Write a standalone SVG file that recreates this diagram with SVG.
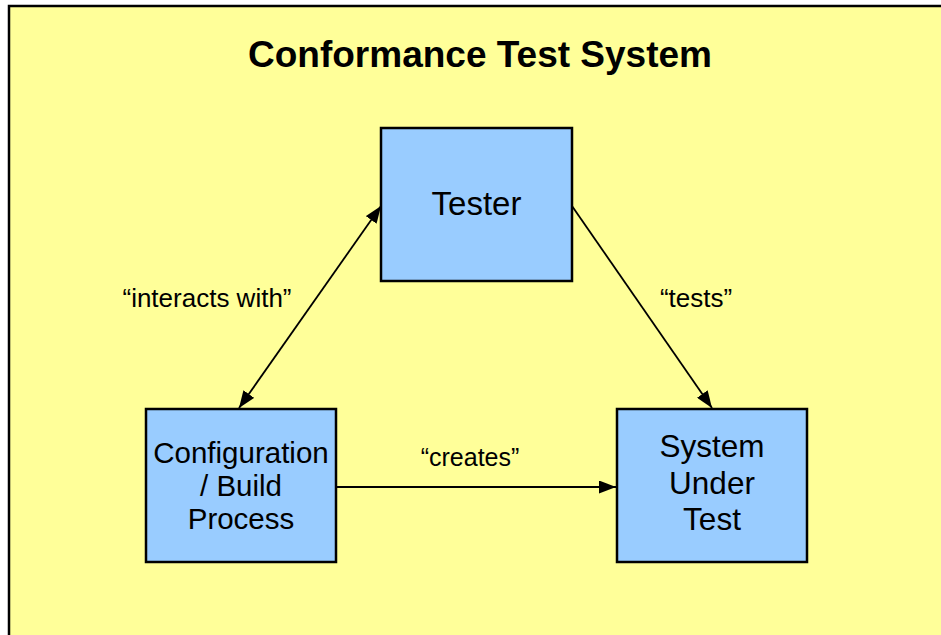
<svg xmlns="http://www.w3.org/2000/svg" width="941" height="635" viewBox="0 0 941 635">
<style>
.box{fill:#99CCFF;stroke:#000;stroke-width:2.5}
.nt{font-family:"Liberation Sans",Arial,sans-serif;font-size:30px;fill:#000;text-anchor:middle}
.lbl{font-family:"Liberation Sans",Arial,sans-serif;font-size:26px;fill:#000;text-anchor:middle}
.conn{stroke:#000;stroke-width:1.8;fill:none}
</style>
<defs>
<marker id="ah" viewBox="0 0 17 13" refX="17" refY="6.5" markerWidth="17" markerHeight="13" markerUnits="userSpaceOnUse" orient="auto-start-reverse">
<path d="M0,0 L17,6.5 L0,13 z" fill="#000"/>
</marker>
</defs>
<rect width="941" height="635" fill="#ffffff"/>
<rect id="frame" x="9" y="6" width="950" height="650" fill="#FFFF99" stroke="#000" stroke-width="2.5"/>
<text x="480" y="67" font-family="'Liberation Sans',Arial,sans-serif" font-size="37" font-weight="bold" text-anchor="middle">Conformance Test System</text>
<g id="connectors">
<line class="conn" x1="381" y1="206" x2="239" y2="408" marker-start="url(#ah)" marker-end="url(#ah)"/>
<line class="conn" x1="572" y1="206" x2="712" y2="408" marker-end="url(#ah)"/>
<line class="conn" x1="337" y1="487" x2="616" y2="487" marker-end="url(#ah)"/>
<text class="lbl" x="207" y="307">“interacts with”</text>
<text class="lbl" x="696" y="307">“tests”</text>
<text class="lbl" x="470" y="466" style="font-size:25px">“creates”</text>
</g>
<g id="tester">
<rect class="box" x="381" y="128" width="191" height="153"/>
<text class="nt" x="476.5" y="215" style="font-size:33px">Tester</text>
</g>
<g id="config">
<rect class="box" x="146" y="409" width="190" height="153"/>
<text class="nt" x="241" y="463" style="font-size:29.5px">Configuration</text>
<text class="nt" x="241" y="496" style="font-size:29.5px">/ Build</text>
<text class="nt" x="241" y="529" style="font-size:29.5px">Process</text>
</g>
<g id="sut">
<rect class="box" x="617" y="409" width="190" height="153"/>
<text class="nt" x="712" y="457" style="font-size:31.5px">System</text>
<text class="nt" x="712" y="494" style="font-size:31.5px">Under</text>
<text class="nt" x="712" y="530" style="font-size:31.5px">Test</text>
</g>
</svg>
